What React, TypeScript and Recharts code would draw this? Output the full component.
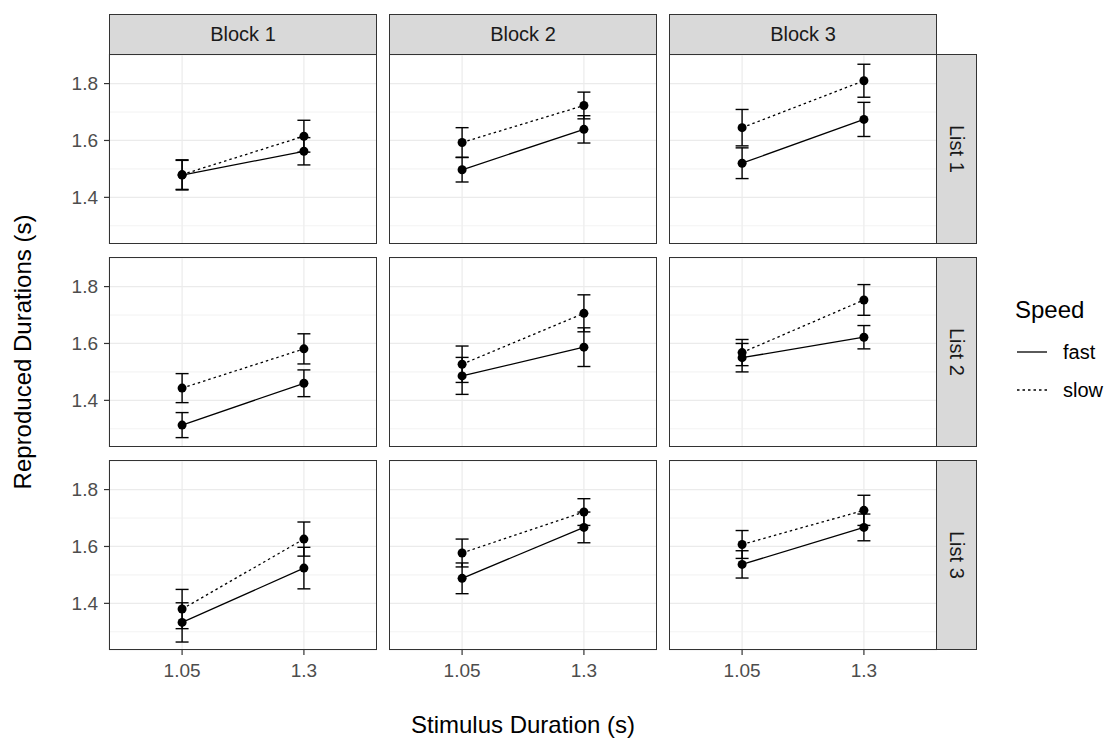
import React from 'react'
import {
  CartesianGrid,
  ComposedChart,
  ErrorBar,
  Line,
  ReferenceLine,
  XAxis,
  YAxis,
} from 'recharts'

const durations = ['1.05', '1.3']
const blocks = ['Block 1', 'Block 2', 'Block 3']
const lists = ['List 1', 'List 2', 'List 3']
const speeds = ['fast', 'slow']

// mean reproduced duration, indexed [list][block][duration]
const fastMean = [
  [[1.478, 1.562], [1.497, 1.639], [1.52, 1.674]],
  [[1.313, 1.46], [1.486, 1.587], [1.55, 1.622]],
  [[1.333, 1.524], [1.488, 1.667], [1.537, 1.667]],
]
const fastSe = [
  [[0.052, 0.048], [0.043, 0.048], [0.054, 0.06]],
  [[0.044, 0.047], [0.065, 0.068], [0.05, 0.041]],
  [[0.069, 0.073], [0.054, 0.054], [0.048, 0.047]],
]
const slowMean = [
  [[1.48, 1.615], [1.593, 1.723], [1.645, 1.81]],
  [[1.443, 1.581], [1.527, 1.706], [1.568, 1.753]],
  [[1.38, 1.626], [1.577, 1.721], [1.607, 1.727]],
]
const slowSe = [
  [[0.052, 0.056], [0.052, 0.047], [0.064, 0.058]],
  [[0.051, 0.053], [0.064, 0.065], [0.046, 0.054]],
  [[0.069, 0.06], [0.049, 0.047], [0.049, 0.053]],
]

const yMajor = [1.4, 1.6, 1.8]
const yMinor = [1.3, 1.5, 1.7, 1.9]
const yDomain = [1.236, 1.904]

// layout of the facet grid (page pixels)
const COL_X = [109, 389, 669]
const ROW_Y = [54, 257, 460]
const PW = 268
const PH = 190
const FONT = '"Liberation Sans", Arial, sans-serif'

function Panel({ li, bi }: { li: number; bi: number }) {
  const left = bi === 0
  const bottom = li === 2
  const yw = left ? 70 : 0
  const xh = bottom ? 40 : 0
  const data = durations.map((d, i) => ({
    pos: i + 1,
    fast: fastMean[li][bi][i],
    fastSe: fastSe[li][bi][i],
    slow: slowMean[li][bi][i],
    slowSe: slowSe[li][bi][i],
  }))

  return (
    <>
      <div style={{ position: 'absolute', left: COL_X[bi] - yw, top: ROW_Y[li] }}>
        <ComposedChart
          width={PW + yw}
          height={PH + xh}
          data={data}
          margin={{ top: 0, right: 0, bottom: 0, left: 0 }}
        >
          <CartesianGrid stroke="#EBEBEB" strokeWidth={1.2} />
          {yMinor.map(v => (
            <ReferenceLine key={v} y={v} stroke="#EFEFEF" strokeWidth={0.8} ifOverflow="hidden" />
          ))}
          <XAxis
            type="number"
            dataKey="pos"
            domain={[0.4, 2.6]}
            ticks={[1, 2]}
            tickFormatter={v => durations[v - 1]}
            hide={!bottom}
            height={xh}
            axisLine={false}
            tickSize={5}
            tickMargin={9}
            tickLine={{ stroke: '#333', strokeWidth: 1.2 }}
            tick={{ fill: '#4D4D4D', fontSize: 19, fontFamily: FONT }}
          />
          <YAxis
            type="number"
            domain={yDomain}
            ticks={yMajor}
            allowDataOverflow
            tickFormatter={v => Number(v).toFixed(1)}
            hide={!left}
            width={yw}
            axisLine={false}
            tickSize={5}
            tickMargin={6}
            tickLine={{ stroke: '#333', strokeWidth: 1.2 }}
            tick={{ fill: '#4D4D4D', fontSize: 19, fontFamily: FONT }}
          />
          <Line
            dataKey="fast"
            name={speeds[0]}
            stroke="#000"
            strokeWidth={1.3}
            dot={{ r: 4.5, fill: '#000', stroke: '#000', strokeWidth: 0 }}
            activeDot={false}
            isAnimationActive={false}
          >
            <ErrorBar dataKey="fastSe" width={6.5} stroke="#000" strokeWidth={1.4} />
          </Line>
          <Line
            dataKey="slow"
            name={speeds[1]}
            stroke="#000"
            strokeWidth={1.3}
            strokeDasharray="2.5 3"
            dot={{ r: 4.5, fill: '#000', stroke: '#000', strokeWidth: 0 }}
            activeDot={false}
            isAnimationActive={false}
          >
            <ErrorBar dataKey="slowSe" width={6.5} stroke="#000" strokeWidth={1.4} strokeDasharray="0" />
          </Line>
        </ComposedChart>
      </div>
      <div
        style={{
          position: 'absolute',
          left: COL_X[bi],
          top: ROW_Y[li],
          width: PW,
          height: PH,
          border: '1px solid #333',
          boxSizing: 'border-box',
          pointerEvents: 'none',
        }}
      />
    </>
  )
}

export default function App() {
  return (
    <div
      style={{
        position: 'absolute',
        left: 0,
        top: 0,
        width: 1110,
        height: 739,
        background: '#fff',
        fontFamily: FONT,
      }}
    >
      {lists.map((l, li) => blocks.map((b, bi) => <Panel key={l + b} li={li} bi={bi} />))}

      {blocks.map((b, bi) => (
        <div
          key={b}
          style={{
            position: 'absolute',
            left: COL_X[bi],
            top: 14,
            width: PW,
            height: 41,
            boxSizing: 'border-box',
            background: '#D9D9D9',
            border: '1px solid #333',
            display: 'flex',
            alignItems: 'center',
            justifyContent: 'center',
            fontSize: 20,
            color: '#1A1A1A',
          }}
        >
          {b}
        </div>
      ))}

      {lists.map((l, li) => (
        <div
          key={l}
          style={{
            position: 'absolute',
            left: COL_X[2] + PW - 1,
            top: ROW_Y[li],
            width: 41,
            height: PH,
            boxSizing: 'border-box',
            background: '#D9D9D9',
            border: '1px solid #333',
            display: 'flex',
            alignItems: 'center',
            justifyContent: 'center',
            fontSize: 20,
            color: '#1A1A1A',
          }}
        >
          <span style={{ writingMode: 'vertical-rl' }}>{l}</span>
        </div>
      ))}

      <div
        style={{
          position: 'absolute',
          left: 23,
          top: 352,
          transform: 'translate(-50%, -50%) rotate(-90deg)',
          whiteSpace: 'nowrap',
          fontSize: 24,
          color: '#000',
        }}
      >
        Reproduced Durations (s)
      </div>
      <div
        style={{
          position: 'absolute',
          left: 523,
          top: 725,
          transform: 'translate(-50%, -50%)',
          whiteSpace: 'nowrap',
          fontSize: 24,
          color: '#000',
        }}
      >
        Stimulus Duration (s)
      </div>

      <div
        style={{
          position: 'absolute',
          left: 1015,
          top: 310,
          transform: 'translateY(-50%)',
          fontSize: 24,
          color: '#000',
        }}
      >
        Speed
      </div>
      {speeds.map((s, i) => (
        <React.Fragment key={s}>
          <svg
            style={{ position: 'absolute', left: 1015, top: 342 + i * 38 }}
            width={34}
            height={20}
          >
            <line
              x1={2}
              x2={32}
              y1={10}
              y2={10}
              stroke="#000"
              strokeWidth={1.3}
              strokeDasharray={s === 'slow' ? '2.5 3' : undefined}
            />
          </svg>
          <div
            style={{
              position: 'absolute',
              left: 1063,
              top: 352 + i * 38,
              transform: 'translateY(-50%)',
              fontSize: 20,
              color: '#000',
            }}
          >
            {s}
          </div>
        </React.Fragment>
      ))}
    </div>
  )
}
